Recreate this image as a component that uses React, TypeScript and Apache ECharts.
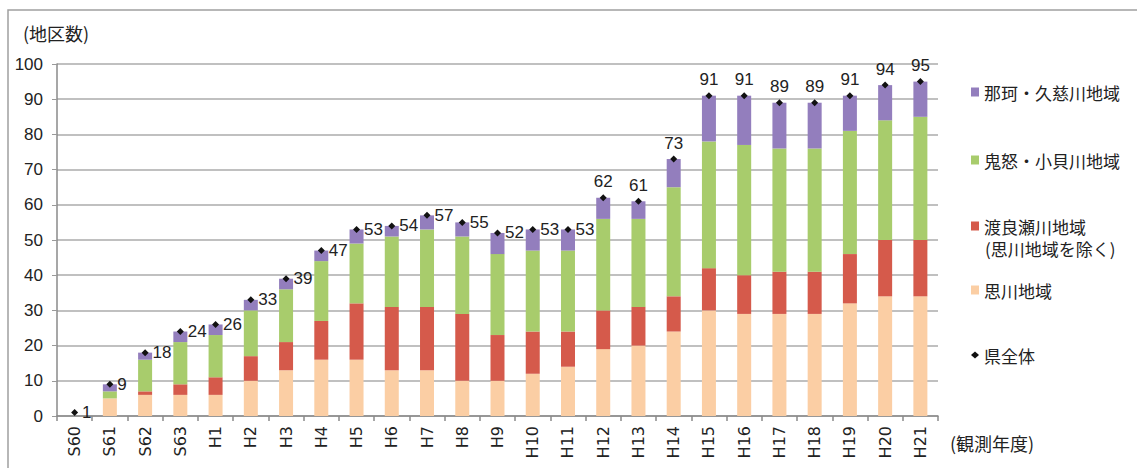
import React, { useEffect, useRef } from "react";
import * as echarts from "echarts";

const categories = ["S60","S61","S62","S63","H1","H2","H3","H4","H5","H6","H7","H8","H9","H10","H11","H12","H13","H14","H15","H16","H17","H18","H19","H20","H21"];
const omoigawa = [0,5,6,6,6,10,13,16,16,13,13,10,10,12,14,19,20,24,30,29,29,29,32,34,34];
const watarase = [0,0,1,3,5,7,8,11,16,18,18,19,13,12,10,11,11,10,12,11,12,12,14,16,16];
const kinu = [0,2,9,12,12,13,15,17,17,20,22,22,23,23,23,26,25,31,36,37,35,35,35,34,35];
const naka = [0,2,2,3,3,3,3,3,4,3,4,4,6,6,6,6,5,8,13,14,13,13,10,10,10];
const total = [1,9,18,24,26,33,39,47,53,54,57,55,52,53,53,62,61,73,91,91,89,89,91,94,95];
const yTicks = { min: 0, max: 100, interval: 10 };

const NAME_NAKA = "那珂・久慈川地域";
const NAME_KINU = "鬼怒・小貝川地域";
const NAME_WATA = "渡良瀬川地域(思川地域を除く)";
const NAME_OMOI = "思川地域";
const NAME_TOTAL = "県全体";
const TOP_LABEL_FROM = "H12";

const CJK = "'Noto Sans CJK JP', sans-serif";
const NUM = "'Liberation Sans', Arial, sans-serif";

export default function App() {
  const ref = useRef<HTMLDivElement>(null);
  useEffect(() => {
    if (!ref.current) return;
    const chart = echarts.init(ref.current, null, { renderer: "svg" });
    const topIdx = categories.indexOf(TOP_LABEL_FROM);
    const barCommon = { type: "bar", stack: "a", barWidth: 14 };
    const legendItem = (name: string, top: number, icon: string, w: number, h: number, fmt?: string) => ({
      show: true,
      orient: "vertical",
      left: 971,
      top,
      padding: 0,
      itemWidth: w,
      itemHeight: h,
      icon,
      data: [name],
      selectedMode: false,
      formatter: fmt ? () => fmt : undefined,
      textStyle: { fontFamily: CJK, fontSize: 17, color: "#222", lineHeight: 20 },
    });
    chart.setOption({
      animation: false,
      backgroundColor: "#fff",
      grid: { left: 57, right: 199, top: 64, bottom: 52 },
      legend: [
        legendItem(NAME_NAKA, 82, "rect", 8, 9),
        legendItem(NAME_KINU, 150, "rect", 8, 9),
        legendItem(NAME_WATA, 216, "rect", 8, 9, "渡良瀬川地域"),
        legendItem(NAME_OMOI, 280, "rect", 8, 9),
        legendItem(NAME_TOTAL, 345, "diamond", 8, 7),
      ],
      xAxis: {
        type: "category",
        data: categories,
        axisLine: { lineStyle: { color: "#8a8a8a", width: 1.5 } },
        axisTick: { show: true, length: 5, lineStyle: { color: "#8a8a8a", width: 1.5 } },
        axisLabel: { rotate: 90, margin: 10, fontFamily: "'DejaVu Sans', sans-serif", fontSize: 16, color: "#222" },
      },
      yAxis: {
        type: "value",
        min: yTicks.min,
        max: yTicks.max,
        interval: yTicks.interval,
        axisLine: { show: true, lineStyle: { color: "#8a8a8a", width: 1.5 } },
        axisTick: { show: true, length: 5, lineStyle: { color: "#9a9a9a" } },
        axisLabel: { margin: 14, fontFamily: NUM, fontSize: 17, color: "#222" },
        splitLine: { lineStyle: { color: "#ababab", width: 1.6 } },
      },
      graphic: [
        { type: "rect", shape: { x: 8, y: 10, width: 1300, height: 600 }, style: { fill: "none", stroke: "#a0a0a0", lineWidth: 1.5 }, silent: true },
        { type: "text", left: 23, top: 24, style: { text: "(地区数)", font: `18px ${CJK}`, fill: "#222" } },
        { type: "text", left: 950, top: 434, style: { text: "(観測年度)", font: `18px ${CJK}`, fill: "#222" } },
        { type: "text", left: 985, top: 240, style: { text: "(思川地域を除く)", font: `17px ${CJK}`, fill: "#222" } },
      ],
      series: [
        { ...barCommon, name: NAME_OMOI, data: omoigawa, itemStyle: { color: "#fbcea4" } },
        { ...barCommon, name: NAME_WATA, data: watarase, itemStyle: { color: "#d55a4b" } },
        { ...barCommon, name: NAME_KINU, data: kinu, itemStyle: { color: "#a8cc6c" } },
        { ...barCommon, name: NAME_NAKA, data: naka, itemStyle: { color: "#937ebd" } },
        {
          type: "line",
          name: NAME_TOTAL,
          data: total.map((v, i) => ({
            value: v,
            label: { position: i >= topIdx ? "top" : "right" },
          })),
          symbol: "diamond",
          symbolSize: 7,
          itemStyle: { color: "#111" },
          lineStyle: { opacity: 0 },
          z: 5,
          label: { show: true, fontFamily: NUM, fontSize: 17, color: "#222", distance: 4 },
        },
      ],
    });
    return () => chart.dispose();
  }, []);
  return <div ref={ref} style={{ position: "fixed", left: 0, top: 0, width: 1137, height: 468 }} />;
}
